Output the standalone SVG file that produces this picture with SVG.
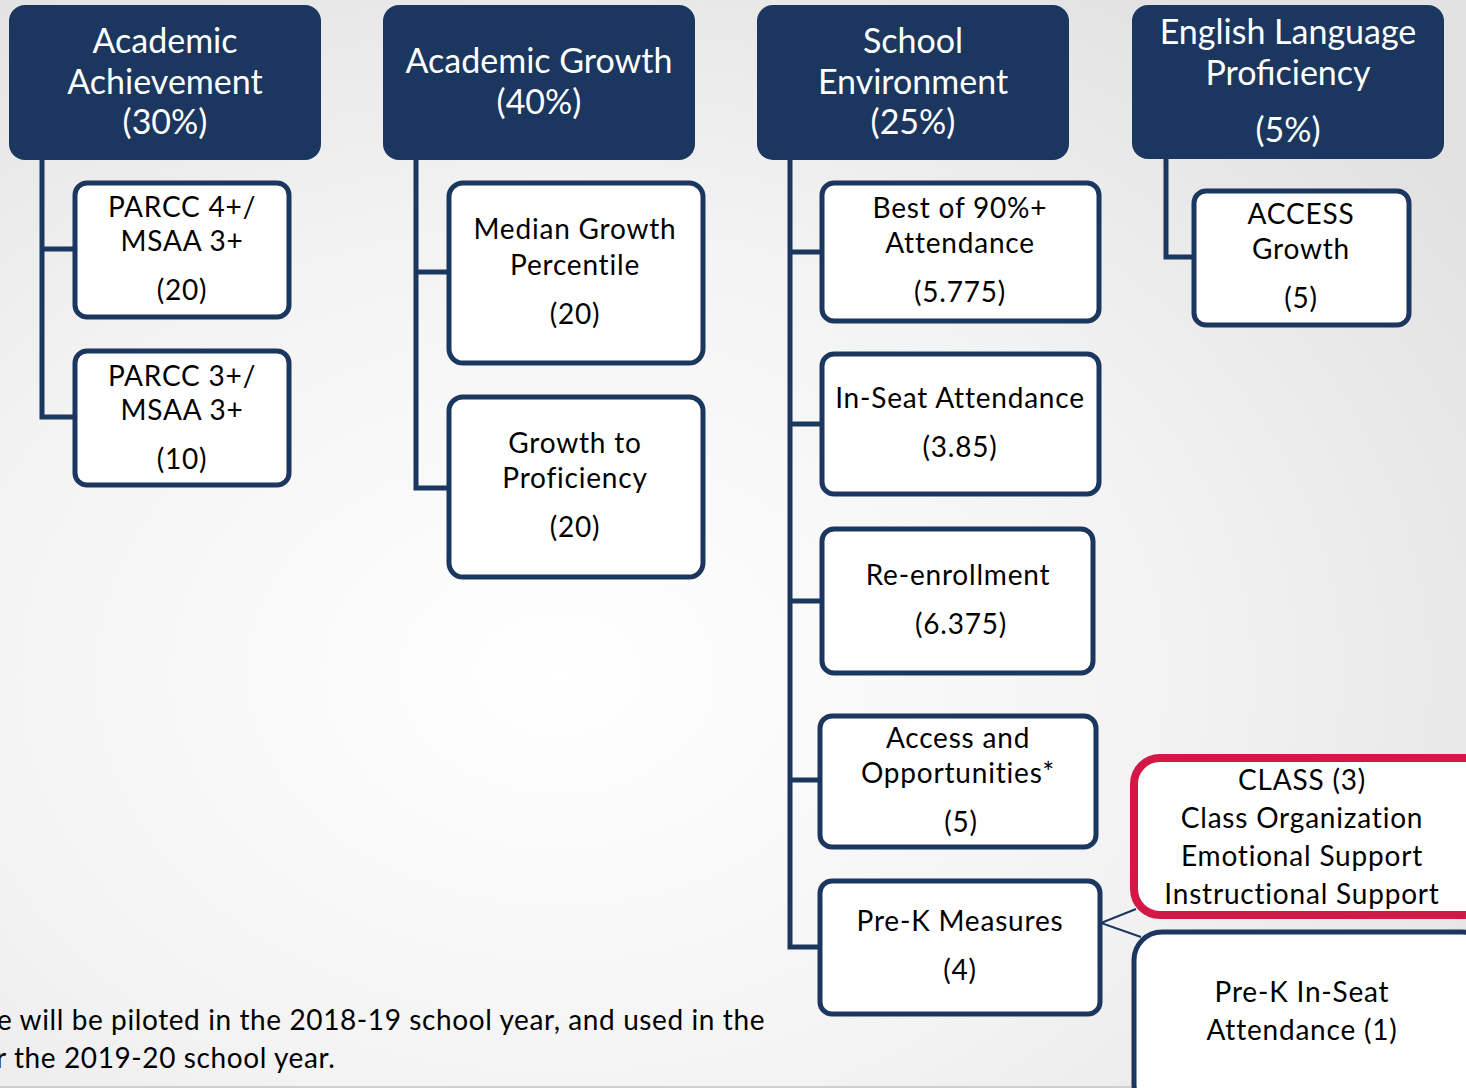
<svg xmlns="http://www.w3.org/2000/svg" width="1466" height="1088" viewBox="0 0 1466 1088">
  <defs>
    <radialGradient id="bg" cx="0.38" cy="0.62" r="0.75">
      <stop offset="0" stop-color="#ffffff"/>
      <stop offset="0.55" stop-color="#f3f3f3"/>
      <stop offset="1" stop-color="#e2e2e2"/>
    </radialGradient>
    <style>
      .hdr { fill: #1b375f; }
      .hdr-t { fill: #ffffff; font-family: Lato, "Liberation Sans", sans-serif; font-size: 34px; text-anchor: middle; }
      .box { fill: #ffffff; stroke: #1b375f; stroke-width: 5; }
      .box-red { fill: #ffffff; stroke: #d31848; stroke-width: 8; }
      .t { fill: #000000; font-family: Lato, "Liberation Sans", sans-serif; font-size: 28px; letter-spacing: 0.8px; text-anchor: middle; }
      .foot { fill: #000000; font-family: Lato, "Liberation Sans", sans-serif; font-size: 28px; letter-spacing: 0.6px; }
      .wire { fill: none; stroke: #1b375f; stroke-width: 5; stroke-linejoin: miter; }
      .thin { fill: none; stroke: #1b375f; stroke-width: 2; }
    </style>
  </defs>

  <rect x="0" y="0" width="1466" height="1088" fill="url(#bg)"/>
  <line x1="0" y1="1087" x2="1466" y2="1087" stroke="#cfcfcf" stroke-width="2"/>

  <!-- tree connectors -->
  <g id="connectors">
    <path class="wire" d="M42 158 V417 H77 M42 249 H77"/>
    <path class="wire" d="M416 158 V488 H451 M416 272 H451"/>
    <path class="wire" d="M790 158 V947 H822 M790 252 H824 M790 424 H824 M790 601 H824 M790 780 H822"/>
    <path class="wire" d="M1166 157 V257 H1196"/>
    <path class="thin" d="M1136 909 L1101 923 L1141 937"/>
  </g>

  <!-- category headers -->
  <g id="hdr-achievement">
    <rect class="hdr" x="9" y="5" width="312" height="155" rx="16"/>
    <text class="hdr-t" x="165" y="53">Academic</text>
    <text class="hdr-t" x="165" y="94">Achievement</text>
    <text class="hdr-t" x="165" y="134">(30%)</text>
  </g>
  <g id="hdr-growth">
    <rect class="hdr" x="383" y="5" width="312" height="155" rx="16"/>
    <text class="hdr-t" x="539" y="73">Academic Growth</text>
    <text class="hdr-t" x="539" y="114">(40%)</text>
  </g>
  <g id="hdr-environment">
    <rect class="hdr" x="757" y="5" width="312" height="155" rx="16"/>
    <text class="hdr-t" x="913" y="53">School</text>
    <text class="hdr-t" x="913" y="94">Environment</text>
    <text class="hdr-t" x="913" y="134">(25%)</text>
  </g>
  <g id="hdr-elp">
    <rect class="hdr" x="1132" y="5" width="312" height="154" rx="16"/>
    <text class="hdr-t" x="1288" y="44">English Language</text>
    <text class="hdr-t" x="1288" y="85">Proficiency</text>
    <text class="hdr-t" x="1288" y="142">(5%)</text>
  </g>

  <!-- academic achievement measures -->
  <g id="parcc4">
    <rect class="box" x="75" y="183" width="214" height="134" rx="12"/>
    <text class="t" x="182" y="217">PARCC 4+/</text>
    <text class="t" x="182" y="251">MSAA 3+</text>
    <text class="t" x="182" y="300">(20)</text>
  </g>
  <g id="parcc3">
    <rect class="box" x="75" y="351" width="214" height="134" rx="12"/>
    <text class="t" x="182" y="386">PARCC 3+/</text>
    <text class="t" x="182" y="420">MSAA 3+</text>
    <text class="t" x="182" y="469">(10)</text>
  </g>

  <!-- academic growth measures -->
  <g id="mgp">
    <rect class="box" x="449" y="183" width="254" height="180" rx="14"/>
    <text class="t" x="575" y="239">Median Growth</text>
    <text class="t" x="575" y="275">Percentile</text>
    <text class="t" x="575" y="324">(20)</text>
  </g>
  <g id="gtp">
    <rect class="box" x="449" y="397" width="254" height="180" rx="14"/>
    <text class="t" x="575" y="453">Growth to</text>
    <text class="t" x="575" y="488">Proficiency</text>
    <text class="t" x="575" y="537">(20)</text>
  </g>

  <!-- school environment measures -->
  <g id="attendance90">
    <rect class="box" x="822" y="183" width="277" height="138" rx="12"/>
    <text class="t" x="960" y="218">Best of 90%+</text>
    <text class="t" x="960" y="253">Attendance</text>
    <text class="t" x="960" y="302">(5.775)</text>
  </g>
  <g id="inseat">
    <rect class="box" x="822" y="354" width="277" height="140" rx="12"/>
    <text class="t" x="960" y="408">In-Seat Attendance</text>
    <text class="t" x="960" y="457">(3.85)</text>
  </g>
  <g id="reenroll">
    <rect class="box" x="822" y="529" width="271" height="144" rx="12"/>
    <text class="t" x="958" y="585">Re-enrollment</text>
    <text class="t" x="961" y="634">(6.375)</text>
  </g>
  <g id="access-opps">
    <rect class="box" x="820" y="716" width="276" height="131" rx="12"/>
    <text class="t" x="958" y="748">Access and</text>
    <text class="t" x="958" y="783">Opportunities*</text>
    <text class="t" x="961" y="832">(5)</text>
  </g>
  <g id="prek">
    <rect class="box" x="820" y="881" width="280" height="133" rx="12"/>
    <text class="t" x="960" y="931">Pre-K Measures</text>
    <text class="t" x="960" y="980">(4)</text>
  </g>

  <!-- pre-k sub-measures -->
  <g id="class">
    <rect class="box-red" x="1134" y="758" width="356" height="157" rx="26"/>
    <text class="t" x="1302" y="790">CLASS (3)</text>
    <text class="t" x="1302" y="828">Class Organization</text>
    <text class="t" x="1302" y="866">Emotional Support</text>
    <text class="t" x="1302" y="904">Instructional Support</text>
  </g>
  <g id="prek-inseat">
    <rect class="box" x="1134" y="932" width="356" height="180" rx="28"/>
    <text class="t" x="1302" y="1002">Pre-K In-Seat</text>
    <text class="t" x="1302" y="1040">Attendance (1)</text>
  </g>

  <!-- english language proficiency measure -->
  <g id="access-growth">
    <rect class="box" x="1194" y="191" width="215" height="134" rx="12"/>
    <text class="t" x="1301" y="224">ACCESS</text>
    <text class="t" x="1301" y="259">Growth</text>
    <text class="t" x="1301" y="308">(5)</text>
  </g>

  <!-- footnote -->
  <text class="foot" x="-3" y="1030">e will be piloted in the 2018-19 school year, and used in the</text>
  <text class="foot" x="-4" y="1068">r the 2019-20 school year.</text>
</svg>
